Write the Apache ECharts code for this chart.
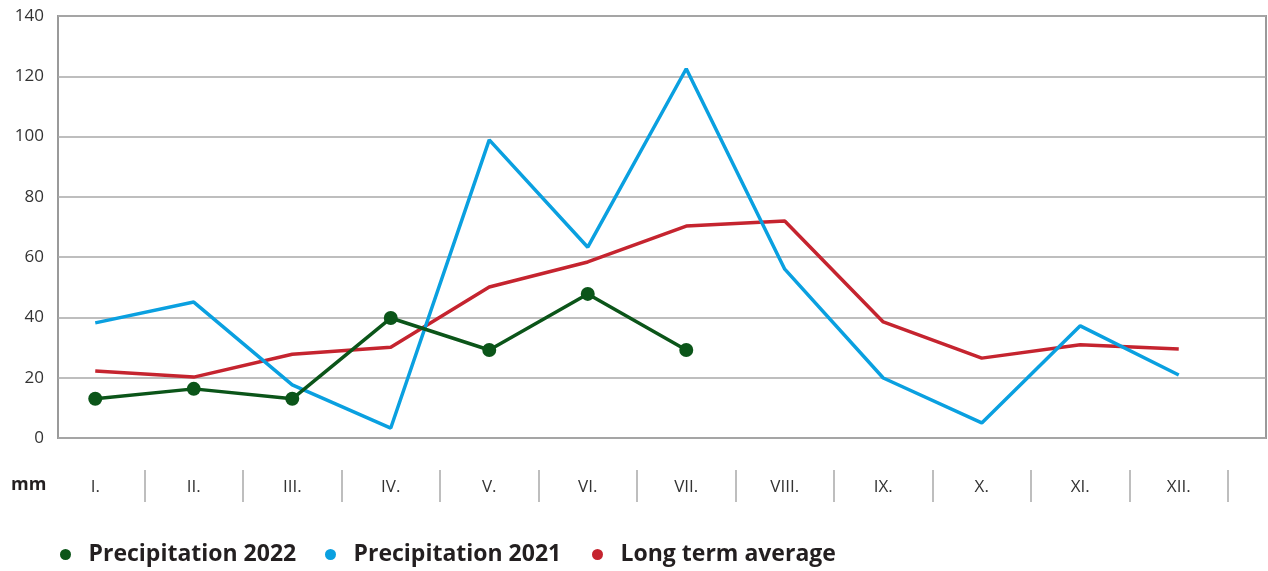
<!DOCTYPE html>
<html><head><meta charset="utf-8">
<script src="https://cdn.jsdelivr.net/npm/echarts@6/dist/echarts.min.js"></script>
<style>html,body{margin:0;padding:0;background:#fff}#c{width:1268px;height:571px}</style>
</head><body><div id="c"></div>
<script>
const months = ['I.','II.','III.','IV.','V.','VI.','VII.','VIII.','IX.','X.','XI.','XII.'];
const precip2022 = [13, 16.3, 13, 39.8, 29.2, 47.8, 29.2, null, null, null, null, null];
const precip2021 = [38.2, 45.1, 17.6, 3.3, 98.9, 63.3, 122.5, 56, 19.9, 5, 37.2, 20.9];
const longTermAvg = [22.2, 20.2, 27.8, 30.1, 50.1, 58.4, 70.3, 72, 38.5, 26.5, 30.9, 29.5];
const yTicks = {min: 0, max: 140, interval: 20};
const seriesNames = ['Precipitation 2022', 'Precipitation 2021', 'Long term average'];
const colors = ['#0b5519', '#0aa0e0', '#c5242f'];

const chart = echarts.init(document.getElementById('c'));
const legendText = {fontFamily: 'Open Sans', fontWeight: 'bold', fontSize: 23, color: '#231f20'};
const legendLefts = [55, 320, 587];
chart.setOption({
  animation: false,
  textStyle: {fontFamily: 'Open Sans'},
  grid: [
    {left: 58, right: 2, top: 16, bottom: 133, show: true, borderColor: '#9a9a9a', borderWidth: 2},
    {left: 46, width: 1182, top: 16, bottom: 133},
    {left: 46, width: 1182, top: 470, height: 32}
  ],
  xAxis: [
    {gridIndex: 0, type: 'value', min: 0, max: 1, show: false},
    {gridIndex: 1, type: 'category', data: months, boundaryGap: true, show: false},
    {gridIndex: 2, type: 'category', data: months, boundaryGap: true, position: 'bottom',
     axisLine: {show: false}, axisTick: {show: false},
     splitLine: {show: true, showMinLine: false, showMaxLine: true, lineStyle: {color: '#a8a8a8', width: 1.5}},
     axisLabel: {inside: true, margin: 6, fontSize: 17, color: '#333', fontFamily: 'Open Sans'}}
  ],
  yAxis: [
    {gridIndex: 0, type: 'value', min: yTicks.min, max: yTicks.max, interval: yTicks.interval,
     axisLine: {show: false}, axisTick: {show: false},
     axisLabel: {margin: 14, fontSize: 17, color: '#333', fontFamily: 'Open Sans'},
     splitLine: {show: true, lineStyle: {color: '#a8a8a8', width: 1.5}}},
    {gridIndex: 1, type: 'value', min: yTicks.min, max: yTicks.max, show: false},
    {gridIndex: 2, type: 'value', show: false}
  ],
  legend: seriesNames.map((n, i) => ({
    data: [n], left: legendLefts[i], top: 538, icon: 'circle', itemWidth: 36, itemHeight: 11,
    textStyle: legendText
  })),
  graphic: [{type: 'text', left: 11, top: 476, style: {text: 'mm', fontFamily: 'Open Sans', fontWeight: 'bold', fontSize: 18, fill: '#231f20'}}],
  series: [
    {name: seriesNames[2], type: 'line', xAxisIndex: 1, yAxisIndex: 1, data: longTermAvg, symbol: 'none',
     lineStyle: {color: colors[2], width: 3.5}, itemStyle: {color: colors[2]}, z: 2},
    {name: seriesNames[1], type: 'line', xAxisIndex: 1, yAxisIndex: 1, data: precip2021, symbol: 'none',
     lineStyle: {color: colors[1], width: 3.5}, itemStyle: {color: colors[1]}, z: 3},
    {name: seriesNames[0], type: 'line', xAxisIndex: 1, yAxisIndex: 1, data: precip2022, symbol: 'circle', symbolSize: 14,
     lineStyle: {color: colors[0], width: 3.5}, itemStyle: {color: colors[0]}, z: 4}
  ]
});
</script></body></html>
